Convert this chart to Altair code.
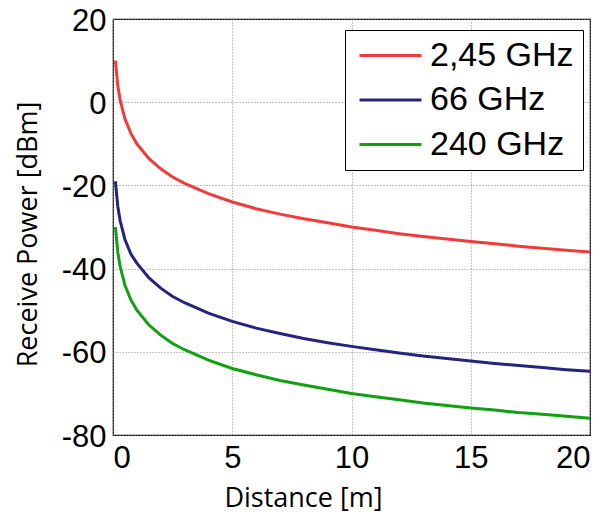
import altair as alt
import pandas as pd

distance = [0.1, 0.2, 0.3, 0.5, 0.75, 1, 1.5, 2, 2.5, 3, 4, 5, 6, 7, 8, 9, 10,
            11, 12, 13, 14, 15, 16, 17, 18, 19, 20]
p_245 = [10, 4, 0.5, -4, -7.5, -10, -13.5, -16, -18, -19.5, -22, -24, -25.6, -26.9,
         -28, -29, -30, -30.8, -31.6, -32.3, -32.9, -33.5, -34, -34.6, -35.1, -35.6, -36]
p_66 = [-19, -25, -28.5, -33, -36.5, -38.7, -42.2, -44.7, -46.7, -48.2, -50.7, -52.7,
        -54.3, -55.6, -56.8, -57.8, -58.7, -59.5, -60.3, -61, -61.6, -62.2, -62.8,
        -63.3, -63.8, -64.3, -64.7]
p_240 = [-30, -36, -39.5, -44, -47.5, -50, -53.5, -56, -58, -59.5, -62, -64, -65.5,
         -66.9, -68, -69, -70, -70.8, -71.5, -72.3, -72.9, -73.5, -74, -74.6, -75,
         -75.5, -76]
series = ["2,45 GHz", "66 GHz", "240 GHz"]
colors = ["#f23a3a", "#24247f", "#10a010"]

rows = []
for name, vals in zip(series, [p_245, p_66, p_240]):
    for d, v in zip(distance, vals):
        rows.append({"d": d, "p": v, "s": name})
df = pd.DataFrame(rows)

chart = alt.Chart(df).mark_line(strokeWidth=3).encode(
    x=alt.X("d:Q", scale=alt.Scale(domain=[0, 20], nice=False),
            axis=alt.Axis(values=[0, 5, 10, 15, 20], title="Distance [m]",
                          titleX=190, titleY=71, titleBaseline="alphabetic",
                          labelPadding=8, labelExpr="'' + datum.value")),
    y=alt.Y("p:Q", scale=alt.Scale(domain=[-80, 20], nice=False),
            axis=alt.Axis(values=[-80, -60, -40, -20, 0, 20], title="Receive Power [dBm]",
                          titleX=-85, titleY=215, titleBaseline="middle", titleAngle=-90,
                          labelPadding=7, labelOffset=2,
                          labelExpr="'' + datum.value")),
    color=alt.Color("s:N", sort=series,
                    scale=alt.Scale(domain=series, range=colors),
                    legend=alt.Legend(title=None, orient="none", legendX=232, legendY=11,
                                      symbolType="M-2,0H2", symbolSize=961,
                                      symbolStrokeWidth=3, symbolOffset=20,
                                      labelFont="Liberation Sans", labelFontSize=34,
                                      labelColor="black",
                                      strokeColor="black", fillColor="white",
                                      padding=8.5, rowPadding=10.5, labelOffset=22.5)),
    detail="s:N",
).properties(
    width=477, height=416,
    autosize=alt.AutoSizeParams(type="none"),
    padding={"left": 105, "top": 11, "right": 17, "bottom": 78},
).configure_view(
    stroke="black", strokeWidth=1.2
).configure_axis(
    domain=False, ticks=False,
    grid=True, gridColor="#888888", gridDash=[1, 2], gridWidth=1,
    labelFont="Liberation Sans", labelFontSize=31, labelColor="black",
    titleFont="Open Sans", titleFontSize=27, titleFontWeight="normal", titleColor="black",
)

chart.save("out.html", embed_options={"renderer": "svg", "actions": False})
